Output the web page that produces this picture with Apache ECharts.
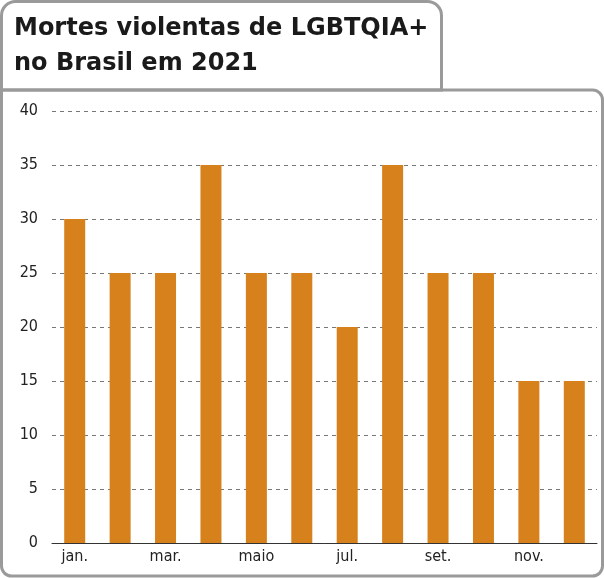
<!DOCTYPE html>
<html><head><meta charset="utf-8">
<script src="https://cdn.jsdelivr.net/npm/echarts@6/dist/echarts.min.js"></script>
<style>html,body{margin:0;padding:0;background:#fff}#c{width:604px;height:578px}</style>
</head><body><div id="c"></div>
<script>
var months = ['jan.','fev.','mar.','abr.','maio','jun.','jul.','ago.','set.','out.','nov.','dez.'];
var deaths = [30,25,25,35,25,25,20,35,25,25,15,15];
var yTicks = {min:0, max:40, interval:5};

var chart = echarts.init(document.getElementById('c'));
chart.setOption({
  animation:false,
  graphic:[
    {type:'rect', shape:{x:1.5, y:1.5, width:440, height:88.5, r:[14,14,0,0]},
     style:{fill:'none', stroke:'#9a9a9a', lineWidth:3}},
    {type:'rect', shape:{x:1.5, y:90, width:601, height:486, r:[0,10,10,10]},
     style:{fill:'none', stroke:'#9a9a9a', lineWidth:3}},
    {type:'text', left:14, top:11,
     style:{text:'Mortes violentas de LGBTQIA+\nno Brasil em 2021', fill:'#1a1a1a',
            font:'bold 24px "DejaVu Sans", "Noto Sans", sans-serif', lineHeight:35}}
  ],
  grid:{left:52, right:7, top:111, bottom:35},
  xAxis:{type:'category', data:months,
    axisLine:{lineStyle:{color:'#333', width:1}}, axisTick:{show:false},
    axisLabel:{color:'#222', fontSize:16, fontFamily:'"DejaVu Sans Condensed", sans-serif', margin:6}},
  yAxis:{type:'value', min:yTicks.min, max:yTicks.max, interval:yTicks.interval,
    axisLine:{show:false}, axisTick:{show:false},
    axisLabel:{color:'#222', fontSize:16, fontFamily:'"DejaVu Sans Condensed", sans-serif', margin:14},
    splitLine:{lineStyle:{color:'#777', type:[4,4], width:1}}},
  series:[{type:'bar', data:deaths, barWidth:21, itemStyle:{color:'#D6811C'}}]
});
</script></body></html>
